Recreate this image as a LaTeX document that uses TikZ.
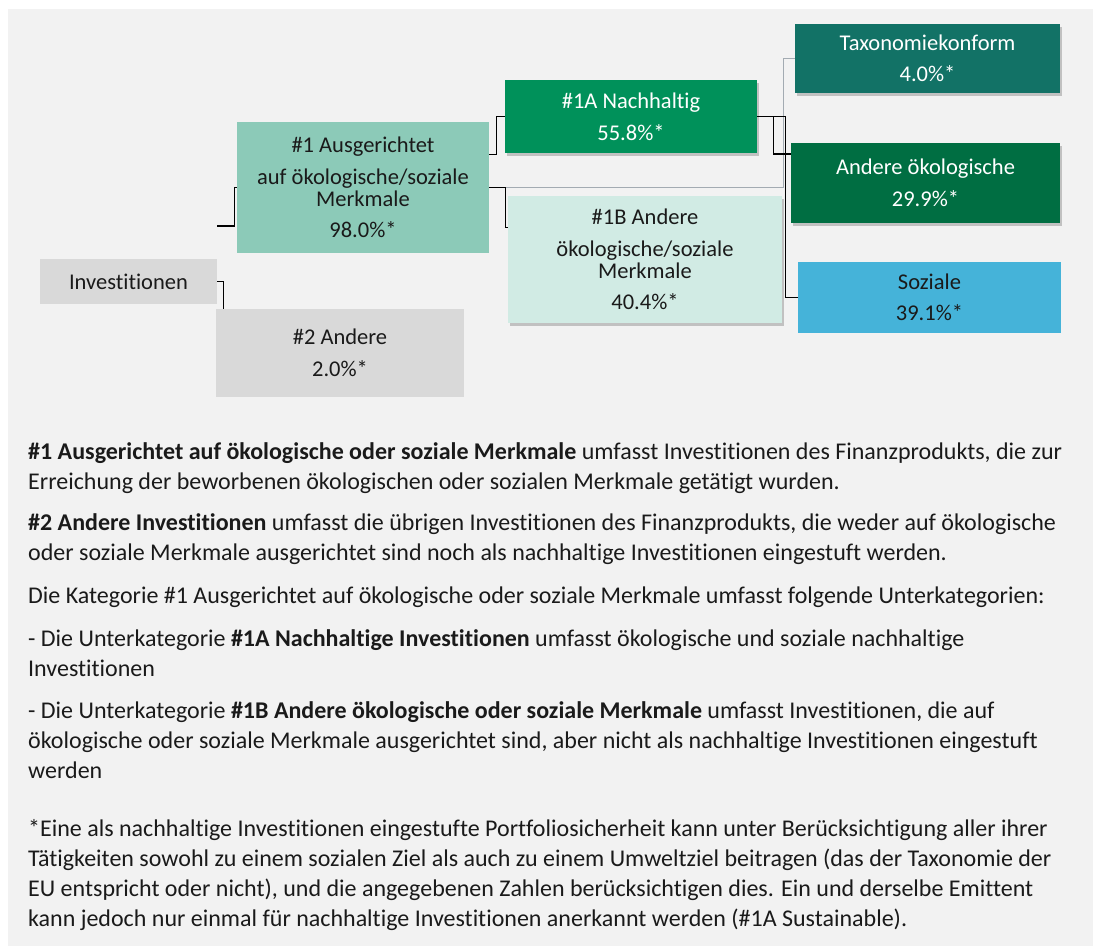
\documentclass[tikz,border=0pt]{standalone}
\usepackage{fontspec}
\setmainfont{Carlito}[Ligatures=NoCommon]
\usepackage{xcolor}
\usepackage{tikz}
\usetikzlibrary{positioning, shadows}
\definecolor{panelgrey}{HTML}{F2F2F2}
\definecolor{invgrey}{HTML}{D9D9D9}
\definecolor{alignteal}{HTML}{8CCAB8}
\definecolor{sustgreen}{HTML}{00915A}
\definecolor{otherchar}{HTML}{D1EBE4}
\definecolor{taxoteal}{HTML}{127266}
\definecolor{envgreen}{HTML}{006E42}
\definecolor{socialblue}{HTML}{45B3D9}
\definecolor{linegrey}{HTML}{A3ABB2}
\definecolor{textblack}{HTML}{1A1A1A}

\begin{document}
\begin{tikzpicture}[x=1pt,y=-1pt]
        \tikzset{box/.style = {rectangle, inner sep=0pt, align=center, font=\fontsize{22.5}{22}\selectfont}}
        \tikzset{shadowbox/.style = {box, drop shadow={shadow xshift=2pt, shadow yshift=-3pt, fill=black, opacity=0.2}}}
        \tikzset{link/.style = {line width=1.2pt, black}}
        \tikzset{greylink/.style = {line width=1pt, linegrey}}
        \tikzset{para/.style = {anchor=north west, inner sep=0pt, align=left, text=textblack, font=\fontsize{24}{30}\selectfont}}

        % panel
        \useasboundingbox (0,0) rectangle (1093,946);
        \fill[white] (0,0) rectangle (1093,946);
        \fill[panelgrey] (8,9) rectangle (1093,946);

        % tree
        \node[box, fill=invgrey, text=textblack, minimum width=177pt, minimum height=45pt] (inv) at (128.5,281.5) {Investitionen};
        \node[box, fill=alignteal, text=textblack, minimum width=252pt, minimum height=131pt] (one) at (363,187.5) {\#1 Ausgerichtet\\[10pt] auf ökologische/soziale\\ Merkmale\\[9pt] 98.0\%*};
        \node[box, fill=invgrey, text=textblack, minimum width=248pt, minimum height=88pt] (two) at (340,353) {\#2 Andere\\[10pt] 2.0\%*};
        \node[shadowbox, fill=sustgreen, text=white, minimum width=252pt, minimum height=73pt] (oneA) at (631,116.5) {\#1A Nachhaltig\\[10pt] 55.8\%*};
        \node[shadowbox, fill=otherchar, text=textblack, minimum width=274pt, minimum height=127pt] (oneB) at (645,259.5) {\#1B Andere\\[10pt] ökologische/soziale\\ Merkmale\\[9pt] 40.4\%*};

        % right column
        \node[shadowbox, fill=taxoteal, text=white, minimum width=265pt, minimum height=69pt] (taxo) at (927.5,58.5) {Taxonomiekonform\\[9pt] 4.0\%*};
        \node[shadowbox, fill=envgreen, text=white, minimum width=269pt, minimum height=80pt] (andere) at (925.5,183) {Andere ökologische\\[10pt] 29.9\%*};
        \node[box, fill=socialblue, text=textblack, minimum width=263pt, minimum height=71pt] (soz) at (929.5,297.5) {Soziale\\[9pt] 39.1\%*};

        % connectors
        \coordinate (invtop) at (217,226);
        \draw[link] (invtop) -| ([xshift=-2pt]one.west) -- (one.west);
        \draw[link] (inv.east) -| ([xshift=8pt]two.north west);
        \draw[link] ([yshift=33pt]one.east) -| ([xshift=-8pt]oneA.west) -- (oneA.west);
        \draw[greylink] ([xshift=-2pt]oneB.west |- one.east) -| ([xshift=-11pt]taxo.west) -- (taxo.west);
        \draw[link] (one.east) -| ([xshift=-2pt,yshift=32pt]oneB.west) -- ([yshift=32pt]oneB.west);
        \draw[link] (oneA.east) -| ([xshift=-17pt,yshift=29pt]andere.west) -- ([yshift=29pt]andere.west);
        \draw[link] (oneA.east) -| ([xshift=-12pt]soz.west) -- (soz.west);

        % notes
        \node[para] (p1) at (28,442) {\textbf{\#1 Ausgerichtet auf ökologische oder soziale Merkmale} umfasst Investitionen des Finanzprodukts, die zur\\ Erreichung der beworbenen ökologischen oder sozialen Merkmale getätigt wurden.};
        \node[para] (p2) at (28,513) {\textbf{\#2 Andere Investitionen} umfasst die übrigen Investitionen des Finanzprodukts, die weder auf ökologische\\ oder soziale Merkmale ausgerichtet sind noch als nachhaltige Investitionen eingestuft werden.};
        \node[para] (p3) at (28,587) {Die Kategorie \#1 Ausgerichtet auf ökologische oder soziale Merkmale umfasst folgende Unterkategorien:};
        \node[para] (p4) at (28,629) {- Die Unterkategorie \textbf{\#1A Nachhaltige Investitionen} umfasst ökologische und soziale nachhaltige\\ Investitionen};
        \node[para] (p5) at (28,701) {- Die Unterkategorie \textbf{\#1B Andere ökologische oder soziale Merkmale} umfasst Investitionen, die auf\\ ökologische oder soziale Merkmale ausgerichtet sind, aber nicht als nachhaltige Investitionen eingestuft\\ werden};
        \node[para] (p6) at (28,819) {*Eine als nachhaltige Investitionen eingestufte Portfoliosicherheit kann unter Berücksichtigung aller ihrer\\ Tätigkeiten sowohl zu einem sozialen Ziel als auch zu einem Umweltziel beitragen (das der Taxonomie der\\ EU entspricht oder nicht), und die angegebenen Zahlen berücksichtigen dies. Ein und derselbe Emittent\\ kann jedoch nur einmal für nachhaltige Investitionen anerkannt werden (\#1A Sustainable).};

\end{tikzpicture}
\end{document}
